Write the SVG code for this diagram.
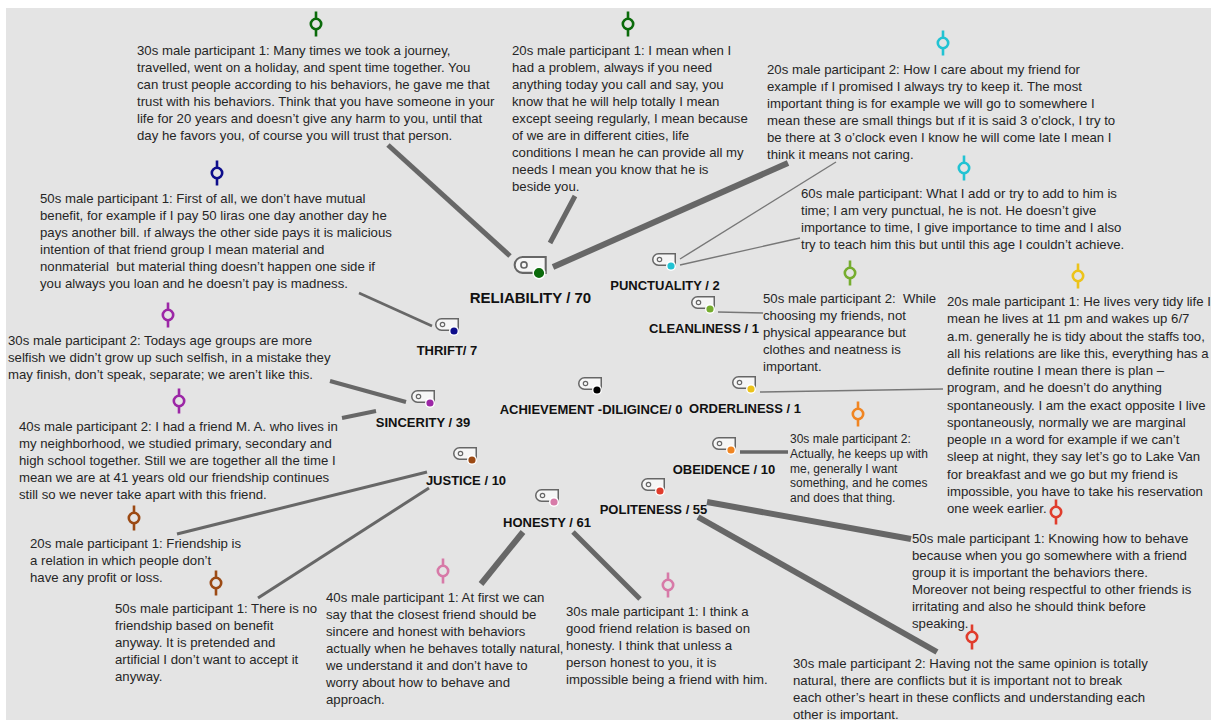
<svg xmlns="http://www.w3.org/2000/svg" xmlns:xlink="http://www.w3.org/1999/xlink" width="1216" height="720" viewBox="0 0 1216 720">
<style>
.q{font-family:"Liberation Sans",Arial,sans-serif;font-size:13.2px;fill:#262626}
.qs{font-family:"Liberation Sans",Arial,sans-serif;font-size:12px;fill:#262626}
.lb{font-family:"Liberation Sans",Arial,sans-serif;font-size:13px;font-weight:bold;fill:#111;text-anchor:middle}
.thick{stroke:#676767;stroke-linecap:butt;fill:none}
.thin{stroke:#777;stroke-width:1.4;fill:none}
.dot{stroke:#fff;stroke-width:1.4}
</style>
<defs>
<g id="tag">
<path d="M5.5,0.75 H22.25 V12.25 H5.5 A5.75,5.75 0 0 1 5.5,0.75 Z" fill="#f6f6f6" stroke="#666" stroke-width="1.5"/>
<circle cx="6.5" cy="6.5" r="2.2" fill="none" stroke="#666" stroke-width="1.2"/>
</g>
<g id="memo" fill="none" stroke="currentColor" stroke-width="2.6">
<circle cx="0" cy="0" r="5.2"/>
<line x1="0" y1="-12.5" x2="0" y2="-5.2"/>
<line x1="0" y1="5.2" x2="0" y2="12.5"/>
</g>
</defs>
<rect x="6" y="8" width="1205" height="712" fill="#e4e4e4"/>

<g id="connectors">
<line class="thick" x1="388" y1="145" x2="510" y2="256" stroke-width="5"/>
<line class="thick" x1="550" y1="243" x2="575" y2="196" stroke-width="5"/>
<line class="thick" x1="553" y1="267" x2="788" y2="163" stroke-width="6"/>
<line class="thin" x1="680" y1="259" x2="836" y2="162"/>
<line class="thin" x1="680" y1="265" x2="800" y2="238"/>
<line class="thin" x1="718" y1="312" x2="763" y2="313"/>
<line class="thin" x1="760" y1="392" x2="943" y2="389"/>
<line class="thick" x1="359" y1="293" x2="432" y2="326" stroke-width="2.5"/>
<line class="thick" x1="330" y1="381" x2="406" y2="402" stroke-width="4"/>
<line class="thick" x1="342" y1="418" x2="376" y2="411" stroke-width="4"/>
<line class="thick" x1="177" y1="534" x2="427" y2="472" stroke-width="3"/>
<line class="thick" x1="258" y1="598" x2="429" y2="488" stroke-width="3"/>
<line class="thick" x1="523" y1="532" x2="481" y2="584" stroke-width="6"/>
<line class="thick" x1="573" y1="532" x2="640" y2="599" stroke-width="5"/>
<line class="thick" x1="707" y1="502" x2="911" y2="539" stroke-width="6"/>
<line class="thick" x1="698" y1="517" x2="937" y2="652" stroke-width="6"/>
<line class="thick" x1="740" y1="452" x2="788" y2="452" stroke-width="3.5"/>
</g>

<g id="node-reliability">
<use xlink:href="#tag" transform="translate(515,256) scale(1.38)"/>
<circle class="dot" cx="539" cy="273" r="5.8" fill="#0b6b0b"/>
<text class="lb" x="530.5" y="303" style="font-size:15px">RELIABILITY / 70</text>
</g>
<g id="node-punctuality">
<use xlink:href="#tag" x="653" y="253"/>
<circle class="dot" cx="671" cy="266" r="4.3" fill="#22c3d3"/>
<text class="lb" x="665" y="290">PUNCTUALITY / 2</text>
</g>
<g id="node-cleanliness">
<use xlink:href="#tag" x="692" y="296"/>
<circle class="dot" cx="710" cy="309" r="4.3" fill="#76ad2f"/>
<text class="lb" x="704" y="333">CLEANLINESS / 1</text>
</g>
<g id="node-thrift">
<use xlink:href="#tag" x="436" y="318"/>
<circle class="dot" cx="454" cy="331" r="4.3" fill="#0e0e8c"/>
<text class="lb" x="447" y="355">THRIFT/ 7</text>
</g>
<g id="node-achievement">
<use xlink:href="#tag" x="579" y="377"/>
<circle class="dot" cx="597" cy="390" r="4.3" fill="#000"/>
<text class="lb" x="591" y="414">ACHIEVEMENT -DILIGINCE/ 0</text>
</g>
<g id="node-orderliness">
<use xlink:href="#tag" x="733" y="376"/>
<circle class="dot" cx="751" cy="389" r="4.3" fill="#ecc31a"/>
<text class="lb" x="745" y="413">ORDERLINESS / 1</text>
</g>
<g id="node-sincerity">
<use xlink:href="#tag" x="412" y="390"/>
<circle class="dot" cx="430" cy="403" r="4.3" fill="#9c27a6"/>
<text class="lb" x="423" y="427">SINCERITY / 39</text>
</g>
<g id="node-justice">
<use xlink:href="#tag" x="454" y="447"/>
<circle class="dot" cx="472" cy="460" r="4.3" fill="#9c4a14"/>
<text class="lb" x="466" y="485">JUSTICE / 10</text>
</g>
<g id="node-obeidence">
<use xlink:href="#tag" x="713" y="437"/>
<circle class="dot" cx="731" cy="450" r="4.3" fill="#f08522"/>
<text class="lb" x="724" y="474">OBEIDENCE / 10</text>
</g>
<g id="node-politeness">
<use xlink:href="#tag" x="642" y="478"/>
<circle class="dot" cx="660" cy="491" r="4.3" fill="#e03c2c"/>
<text class="lb" x="653.5" y="514">POLITENESS / 55</text>
</g>
<g id="node-honesty">
<use xlink:href="#tag" x="536" y="489"/>
<circle class="dot" cx="554" cy="502" r="4.3" fill="#d77aa8"/>
<text class="lb" x="547" y="527">HONESTY / 61</text>
</g>

<g id="quote-rel-1">
<use xlink:href="#memo" x="316" y="24" style="color:#0b6b0b"/>
<text class="q" x="137" y="55"><tspan x="137">30s male participant 1: Many times we took a journey,</tspan><tspan x="137" dy="17">travelled, went on a holiday, and spent time together. You</tspan><tspan x="137" dy="17">can trust people according to his behaviors, he gave me that</tspan><tspan x="137" dy="17">trust with his behaviors. Think that you have someone in your</tspan><tspan x="137" dy="17">life for 20 years and doesn’t give any harm to you, until that</tspan><tspan x="137" dy="17">day he favors you, of course you will trust that person.</tspan></text>
</g>
<g id="quote-rel-2">
<use xlink:href="#memo" x="628" y="24" style="color:#0b6b0b"/>
<text class="q" x="512" y="55"><tspan x="512">20s male participant 1: I mean when I</tspan><tspan x="512" dy="17">had a problem, always if you need</tspan><tspan x="512" dy="17">anything today you call and say, you</tspan><tspan x="512" dy="17">know that he will help totally I mean</tspan><tspan x="512" dy="17">except seeing regularly, I mean because</tspan><tspan x="512" dy="17">of we are in different cities, life</tspan><tspan x="512" dy="17">conditions I mean he can provide all my</tspan><tspan x="512" dy="17">needs I mean you know that he is</tspan><tspan x="512" dy="17">beside you.</tspan></text>
</g>
<g id="quote-rel-3">
<use xlink:href="#memo" x="943" y="43" style="color:#22c3d3"/>
<text class="q" x="767" y="74"><tspan x="767">20s male participant 2: How I care about my friend for</tspan><tspan x="767" dy="17">example ıf I promised I always try to keep it. The most</tspan><tspan x="767" dy="17">important thing is for example we will go to somewhere I</tspan><tspan x="767" dy="17">mean these are small things but ıf it is said 3 o’clock, I try to</tspan><tspan x="767" dy="17">be there at 3 o’clock even I know he will come late I mean I</tspan><tspan x="767" dy="17">think it means not caring.</tspan></text>
</g>
<g id="quote-punct">
<use xlink:href="#memo" x="964" y="168" style="color:#22c3d3"/>
<text class="q" x="801" y="198"><tspan x="801">60s male participant: What I add or try to add to him is</tspan><tspan x="801" dy="17">time; I am very punctual, he is not. He doesn’t give</tspan><tspan x="801" dy="17">importance to time, I give importance to time and I also</tspan><tspan x="801" dy="17">try to teach him this but until this age I couldn’t achieve.</tspan></text>
</g>
<g id="quote-thrift">
<use xlink:href="#memo" x="217" y="173" style="color:#0e0e8c"/>
<text class="q" x="40" y="203"><tspan x="40">50s male participant 1: First of all, we don’t have mutual</tspan><tspan x="40" dy="17">benefit, for example if I pay 50 liras one day another day he</tspan><tspan x="40" dy="17">pays another bill. ıf always the other side pays it is malicious</tspan><tspan x="40" dy="17">intention of that friend group I mean material and</tspan><tspan x="40" dy="17" xml:space="preserve">nonmaterial  but material thing doesn’t happen one side if</tspan><tspan x="40" dy="17">you always you loan and he doesn’t pay is madness.</tspan></text>
</g>
<g id="quote-sinc-1">
<use xlink:href="#memo" x="168" y="315" style="color:#9c27a6"/>
<text class="q" x="8" y="345"><tspan x="8">30s male participant 2: Todays age groups are more</tspan><tspan x="8" dy="17">selfish we didn’t grow up such selfish, in a mistake they</tspan><tspan x="8" dy="17">may finish, don’t speak, separate; we aren’t like this.</tspan></text>
</g>
<g id="quote-sinc-2">
<use xlink:href="#memo" x="179" y="401" style="color:#9c27a6"/>
<text class="q" x="19" y="431"><tspan x="19">40s male participant 2: I had a friend M. A. who lives in</tspan><tspan x="19" dy="17">my neighborhood, we studied primary, secondary and</tspan><tspan x="19" dy="17">high school together. Still we are together all the time I</tspan><tspan x="19" dy="17">mean we are at 41 years old our friendship continues</tspan><tspan x="19" dy="17">still so we never take apart with this friend.</tspan></text>
</g>
<g id="quote-clean">
<use xlink:href="#memo" x="850" y="273" style="color:#76ad2f"/>
<text class="q" x="763" y="303" xml:space="preserve"><tspan x="763">50s male participant 2:  While</tspan><tspan x="763" dy="17">choosing my friends, not</tspan><tspan x="763" dy="17">physical appearance but</tspan><tspan x="763" dy="17">clothes and neatness is</tspan><tspan x="763" dy="17">important.</tspan></text>
</g>
<g id="quote-order">
<use xlink:href="#memo" x="1078" y="276" style="color:#ecc31a"/>
<text class="q" x="947" y="306"><tspan x="947">20s male participant 1: He lives very tidy life I</tspan><tspan x="947" dy="17.25">mean he lives at 11 pm and wakes up 6/7</tspan><tspan x="947" dy="17.25">a.m. generally he is tidy about the staffs too,</tspan><tspan x="947" dy="17.25">all his relations are like this, everything has a</tspan><tspan x="947" dy="17.25">definite routine I mean there is plan –</tspan><tspan x="947" dy="17.25">program, and he doesn’t do anything</tspan><tspan x="947" dy="17.25">spontaneously. I am the exact opposite I live</tspan><tspan x="947" dy="17.25">spontaneously, normally we are marginal</tspan><tspan x="947" dy="17.25">people ın a word for example if we can’t</tspan><tspan x="947" dy="17.25">sleep at night, they say let’s go to Lake Van</tspan><tspan x="947" dy="17.25">for breakfast and we go but my friend is</tspan><tspan x="947" dy="17.25">impossible, you have to take his reservation</tspan><tspan x="947" dy="17.25">one week earlier.</tspan></text>
</g>
<g id="quote-obei">
<use xlink:href="#memo" x="858" y="414" style="color:#f08522"/>
<text class="qs" x="790" y="443"><tspan x="790">30s male participant 2:</tspan><tspan x="790" dy="14.75">Actually, he keeps up with</tspan><tspan x="790" dy="14.75">me, generally I want</tspan><tspan x="790" dy="14.75">something, and he comes</tspan><tspan x="790" dy="14.75">and does that thing.</tspan></text>
</g>
<g id="quote-just-1">
<use xlink:href="#memo" x="134" y="518" style="color:#9c4a14"/>
<text class="q" x="30" y="548"><tspan x="30">20s male participant 1: Friendship is</tspan><tspan x="30" dy="17">a relation in which people don’t</tspan><tspan x="30" dy="17">have any profit or loss.</tspan></text>
</g>
<g id="quote-just-2">
<use xlink:href="#memo" x="216" y="583" style="color:#9c4a14"/>
<text class="q" x="115" y="613"><tspan x="115">50s male participant 1: There is no</tspan><tspan x="115" dy="17">friendship based on benefit</tspan><tspan x="115" dy="17">anyway. It is pretended and</tspan><tspan x="115" dy="17">artificial I don’t want to accept it</tspan><tspan x="115" dy="17">anyway.</tspan></text>
</g>
<g id="quote-hon-1">
<use xlink:href="#memo" x="443" y="571" style="color:#d77aa8"/>
<text class="q" x="326" y="602"><tspan x="326">40s male participant 1: At first we can</tspan><tspan x="326" dy="17">say that the closest friend should be</tspan><tspan x="326" dy="17">sincere and honest with behaviors</tspan><tspan x="326" dy="17">actually when he behaves totally natural,</tspan><tspan x="326" dy="17">we understand it and don’t have to</tspan><tspan x="326" dy="17">worry about how to behave and</tspan><tspan x="326" dy="17">approach.</tspan></text>
</g>
<g id="quote-hon-2">
<use xlink:href="#memo" x="668" y="585" style="color:#d77aa8"/>
<text class="q" x="566" y="616"><tspan x="566">30s male participant 1: I think a</tspan><tspan x="566" dy="17">good friend relation is based on</tspan><tspan x="566" dy="17">honesty. I think that unless a</tspan><tspan x="566" dy="17">person honest to you, it is</tspan><tspan x="566" dy="17">impossible being a friend with him.</tspan></text>
</g>
<g id="quote-pol-1">
<use xlink:href="#memo" x="1056" y="512" style="color:#e03c2c"/>
<text class="q" x="912" y="543"><tspan x="912">50s male participant 1: Knowing how to behave</tspan><tspan x="912" dy="17">because when you go somewhere with a friend</tspan><tspan x="912" dy="17">group it is important the behaviors there.</tspan><tspan x="912" dy="17">Moreover not being respectful to other friends is</tspan><tspan x="912" dy="17">irritating and also he should think before</tspan><tspan x="912" dy="17">speaking.</tspan></text>
</g>
<g id="quote-pol-2">
<use xlink:href="#memo" x="972" y="637" style="color:#e03c2c"/>
<text class="q" x="793" y="668"><tspan x="793">30s male participant 2: Having not the same opinion is totally</tspan><tspan x="793" dy="17">natural, there are conflicts but it is important not to break</tspan><tspan x="793" dy="17">each other’s heart in these conflicts and understanding each</tspan><tspan x="793" dy="17">other is important.</tspan></text>
</g>
</svg>
